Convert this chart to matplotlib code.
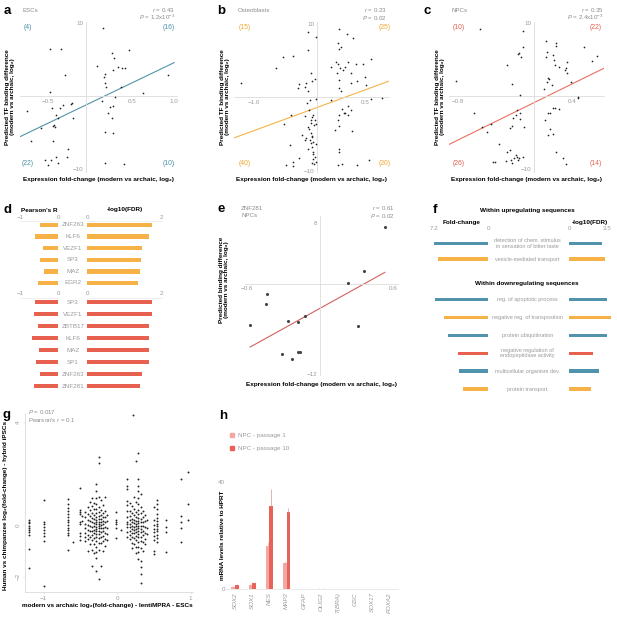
import numpy as np
import matplotlib
matplotlib.use('Agg')
import matplotlib.pyplot as plt
from matplotlib.transforms import blended_transform_factory
from matplotlib.patches import Patch

plt.rcParams['font.family'] = ['Liberation Sans', 'DejaVu Sans']
plt.rcParams['mathtext.fontset'] = 'custom'
plt.rcParams['mathtext.rm'] = 'Liberation Sans'
plt.rcParams['mathtext.it'] = 'Liberation Sans:italic'
plt.rcParams['mathtext.bf'] = 'Liberation Sans:bold'

W, H = 617, 619

BLUE = '#5193ac'
ORANGE = '#f6b247'
RED = '#e8604f'
GREY = '#9a9a9a'
LINE = '#dcdcdc'

# ---- a: ESCs
a_x = [-0.48, -0.35, -0.30, -0.48,
       0.16, 0.47, 0.26, 0.29, 0.08, 0.33, 0.38, 0.42, 0.28, 0.18, 0.17, 0.94, 0.18, 0.19, 0.37, 0.64,
       -0.22, -0.23, -0.32, -0.76, -0.46, -0.36, -0.41, -0.38, -0.21, -0.43, -0.42, -0.44, -0.59, -0.71,
       -0.44, -0.27, -0.28, -0.41, -0.54, -0.47, -0.50, -0.38,
       0.30, 0.14, 0.27, 0.24, 0.21, 0.26, 0.18, 0.28, 0.18, 0.41]
a_y = [6.36, 6.41, 2.86, 0.59,
       9.23, 6.27, 5.82, 5.23, 4.09, 4.00, 3.77, 3.77, 3.55, 3.00, 2.55, 2.82, 1.82, 1.18, 1.27, 0.45,
       -1.00, -1.05, -1.27, -2.00, -1.64, -1.68, -2.59, -3.05, -3.00, -4.00, -4.18, -4.09, -4.41, -6.09,
       -6.14, -7.23, -8.36, -8.27, -8.73, -8.73, -9.41, -9.18,
       -0.09, -0.64, -1.36, -1.45, -2.27, -3.05, -4.95, -5.09, -9.18, -9.27]
a_fit_x = [-0.84, 1.01]
a_fit_y = [-5.55, 4.55]

# ---- b: Osteoblasts
b_x = [-0.28, -0.16, -0.28, -0.61, -0.47, -0.71, -0.23, -0.18, -0.22, -0.30, -0.39, -0.32, -0.41, -0.27, -1.17,
       0.15, 0.25, 0.33, 0.13, 0.17, 0.15, 0.10, 0.26, 0.37, 0.46, 0.58, 0.04, 0.16, 0.20, 0.30, 0.13, 0.11,
       0.49, 0.39, 0.14, 0.14, 0.17, 0.30, 0.51, 0.22,
       -0.50, -0.60, -0.31, -0.22, -0.20, -0.26, -0.29, -0.25, -0.16, -0.27, -0.23, -0.19, -0.17, -0.35,
       -0.23, -0.22, -0.30, -0.26, -0.52, -0.39, -0.57, -0.48, -0.48, -0.22, -0.21, -0.20, -0.18, -0.20,
       -0.17, -0.22, -0.19, -0.23, -0.24, -0.21, -0.28, -0.31, -0.18, -0.23, -0.16, -0.22,
       0.03, 0.18, 0.26, 0.22, 0.31, 0.14, 0.21, 0.13, 0.14, 0.09, 0.32, 0.15, 0.14, 0.13, 0.18, 0.39,
       0.55, 0.58, 0.72, 0.27]
b_y = [8.82, 8.24, 6.43, 5.52, 5.61, 4.03, 3.35, 2.44, 2.26, 1.99, 1.81, 1.36, 1.22, 0.90, 1.90,
       9.32, 8.60, 8.01, 7.33, 6.88, 6.52, 4.84, 4.75, 4.52, 4.52, 5.25, 4.16, 3.94, 3.71, 3.35, 4.48, 3.26,
       2.71, 2.26, 2.35, 1.22, 0.90, 1.99, 1.67, 4.16,
       -2.40, -3.62, -2.53, -2.62, -2.40, -1.72, -0.81, -0.36, -0.27, -3.98, -3.53, -3.76, -3.62, -5.07,
       -4.89, -5.25, -5.48, -4.34, -6.47, -8.24, -9.19, -8.78, -9.32, -6.70, -7.38, -7.74, -8.14, -8.42,
       -8.73, -8.87, -9.05, -6.24, -5.79, -6.02, -7.06, -5.79, -3.08, -3.08, -6.33, -5.34,
       -0.36, -1.58, -1.18, -2.17, -1.72, -2.40, -2.08, -3.08, -3.89, -4.43, -4.57, -7.06, -7.38, -9.23,
       -9.05, -9.14, -8.51, -0.23, -0.05, -2.40]
b_fit_x = [-1.26, 0.82]
b_fit_y = [-5.48, 2.22]

# ---- c: NPCs
c_x = [-0.56, -0.11, -0.11, -0.17, -0.16, -0.14, -0.28, -0.23, -0.82, -0.15,
       0.13, 0.23, 0.23, 0.52, 0.14, 0.20, 0.13, 0.21, 0.22, 0.35, 0.26, 0.66, 0.61, 0.34, 0.32, 0.35,
       0.15, 0.16, 0.14, 0.39, 0.19, 0.11,
       -0.63, -0.54, -0.45, -0.49, -0.18, -0.19, -0.15, -0.22, -0.25, -0.23, -0.10, -0.15, -0.37,
       -0.25, -0.28, -0.43, -0.41, -0.29, -0.24, -0.23, -0.19, -0.18, -0.17, -0.16, -0.21, -0.11,
       0.46, 0.46, 0.20, 0.22, 0.26, 0.17, 0.15, 0.12, 0.17, 0.20, 0.15, 0.23, 0.30, 0.33]
c_y = [9.18, 8.91, 6.73, 5.73, 5.82, 5.36, 4.23, 1.59, 2.00, 0.14,
       7.55, 7.18, 6.86, 6.73, 6.05, 5.59, 5.27, 4.91, 4.23, 4.68, 4.00, 5.45, 4.73, 3.77, 3.55, 3.09,
       2.50, 2.36, 1.91, 1.95, 1.45, 1.00,
       -2.36, -4.18, -3.86, -4.95, -1.91, -2.59, -2.36, -3.05, -4.32, -4.09, -4.18, -3.14, -6.55,
       -7.36, -7.64, -8.95, -9.05, -8.86, -8.73, -9.18, -8.05, -8.27, -8.73, -8.50, -8.45, -8.36,
       -0.09, -0.32, -1.68, -1.68, -1.73, -2.27, -2.36, -3.27, -4.45, -5.18, -5.32, -7.59, -8.41, -9.27]
c_fit_x = [-0.885, 0.73]
c_fit_y = [-6.59, 3.77]

# ---- e: ZNF281 in NPCs
e_x = [0.53, 0.36, 0.23, -0.43, -0.44, -0.57, -0.26, -0.18, -0.12, 0.31, -0.31, -0.23, -0.18, -0.16]
e_y = [7.57, 1.73, 0.13, -1.37, -2.70, -5.53, -4.91, -5.09, -4.25, -5.66, -9.34, -9.96, -9.12, -9.12]
e_fit_x = [-0.57, 0.53]
e_fit_y = [-8.41, 1.50]

# ---- d: TF correlations
d_top_genes = ['ZNF263', 'KLF6', 'VEZF1', 'SP3', 'MAZ', 'EGR2']
d_top_r = [-0.48, -0.61, -0.41, -0.48, -0.37, -0.52]
d_top_fdr = [1.73, 1.67, 1.46, 1.45, 1.43, 1.36]
d_bot_genes = ['SP3', 'VEZF1', 'ZBTB17', 'KLF6', 'MAZ', 'SP1', 'ZNF263', 'ZNF281']
d_bot_r = [-0.61, -0.63, -0.54, -0.69, -0.50, -0.59, -0.48, -0.63]
d_bot_fdr = [1.74, 1.74, 1.67, 1.67, 1.67, 1.67, 1.46, 1.43]

# ---- f: GO terms
f_up_terms = ['detection of chem. stimulus\nin sensation of bitter taste', 'vesicle-mediated transport']
f_up_fc = [7.2, 6.63]
f_up_fdr = [3.04, 3.35]
f_up_colors = [BLUE, ORANGE]
f_down_terms = ['reg. of apoptotic process', 'negative reg. of transposition', 'protein ubiquitination',
                'negative regulation of\nendopeptidase activity', 'multicellular organism dev.',
                'protein transport']
f_down_fc = [7.07, 5.83, 5.39, 4.06, 3.84, 3.31]
f_down_fdr = [3.5, 3.87, 3.5, 2.19, 2.8, 1.98]
f_down_colors = [BLUE, ORANGE, BLUE, RED, BLUE, ORANGE]

# ---- g: lentiMPRA vs hybrid iPSCs (columns of points)
g_col_x = [-1.20, -1.00, -0.67, -0.60, -0.51, -0.47, -0.43, -0.40, -0.37, -0.34, -0.31, -0.28, -0.25,
           -0.22, -0.19, -0.16, -0.13, -0.02, 0.06, 0.13, 0.17, 0.20, 0.22, 0.23, 0.26, 0.29, 0.32,
           0.35, 0.38, 0.41, 0.51, 0.55, 0.67, 0.87, 0.96]
g_col_y = [
    [0.19, 0.13, 0.06, -0.02, -0.10, -0.18, -0.27, -0.37, -0.93, -1.68],
    [0.97, 0.13, 0.04, -0.06, -0.19, -0.32, -0.41, -0.62, -2.36],
    [1.00, 0.80, 0.65, 0.54, 0.44, 0.31, 0.19, 0.10, 0.00, -0.10, -0.21, -0.30, -0.39, -0.98],
    [-0.67],
    [1.45, 0.57, 0.52, 0.41, 0.13, 0.03, -0.32, -0.43, -0.58],
    [0.35, 0.17],
    [0.52, 0.30, 0.05, -0.12, -0.30, -0.45, -0.62],
    [0.70, 0.41, 0.20, 0.00, -0.20, -0.38, -0.55, -1.00],
    [0.90, 0.60, 0.35, 0.15, -0.05, -0.25, -0.48, -0.75],
    [1.05, 0.75, 0.48, 0.28, 0.10, -0.08, -0.22, -0.40, -0.60, -0.95, -1.58],
    [0.85, 0.62, 0.40, 0.22, 0.08, -0.05, -0.18, -0.32, -0.50, -0.72, -1.10],
    [1.58, 1.32, 1.05, 0.82, 0.62, 0.45, 0.32, 0.20, 0.10, 0.02, -0.06, -0.15, -0.25, -0.36, -0.48,
     -0.62, -0.85, -1.05, -1.29, -1.77],
    [2.65, 2.39, 1.10, 0.70, 0.50, 0.35, 0.22, 0.12, 0.04, -0.04, -0.12, -0.22, -0.35, -0.52, -0.70,
     -0.95, -2.09],
    [0.95, 0.60, 0.40, 0.25, 0.12, 0.00, -0.12, -0.28, -0.45, -0.68, -1.59],
    [0.78, 0.48, 0.30, 0.15, 0.02, -0.10, -0.25, -0.42, -0.62, -1.00],
    [1.10, 0.55, 0.30, 0.10, -0.08, -0.30, -0.55, -0.80],
    [0.40, 0.15, -0.10, -0.35, -0.60],
    [0.49, 0.18, 0.10, 0.03, -0.10, -0.49],
    [-0.20],
    [1.78, 1.51, 1.38, 0.93, 0.78, 0.54, 0.32, 0.13, 0.03, -0.06, -0.26, -0.45],
    [0.85, 0.55, 0.35, 0.18, 0.05, -0.08, -0.22, -0.38, -0.55],
    [0.75, 0.45, 0.25, 0.10, -0.02, -0.15, -0.30, -0.48, -0.70, -0.90],
    [4.26],
    [1.10, 0.62, 0.38, 0.20, 0.06, -0.06, -0.18, -0.32, -0.50, -0.75],
    [2.48, 0.90, 0.50, 0.30, 0.15, 0.04, -0.05, -0.15, -0.28, -0.42, -0.60, -0.85, -1.10],
    [2.78, 1.78, 1.51, 1.32, 1.05, 0.80, 0.60, 0.42, 0.28, 0.16, 0.06, -0.03, -0.12, -0.22, -0.34,
     -0.48, -0.65, -0.85, -1.05, -1.30],
    [1.20, 0.70, 0.45, 0.25, 0.10, -0.02, -0.14, -0.28, -0.45, -0.62, -0.90, -1.40, -1.62, -1.89, -2.26],
    [0.55, 0.30, 0.12, -0.05, -0.22, -0.40, -0.65, -1.00],
    [0.40, 0.15, -0.08, -0.30, -0.55, -0.75],
    [0.20, -0.10, -0.35],
    [0.71, 0.19, 0.00, -0.14, -0.27, -0.43, -0.58, -1.00, -1.12],
    [0.97, 0.80, 0.62, 0.42, 0.28, 0.15, 0.05, -0.05, -0.15, -0.25, -0.38, -0.50, -0.65],
    [0.19, -0.09, -0.26, -1.03],
    [1.78, 0.35, 0.13, -0.10, -0.65],
    [2.07, 0.81, 0.19],
]

# ---- h: qPCR
h_genes = ['SOX2', 'SOX1', 'NES', 'MAP2', 'GFAP', 'OLIG2', 'T(BRA)', 'GSC', 'SOX17', 'FOXA2']
h_p1 = [1.0, 1.6, 16.1, 9.9, 0.05, 0.1, 0.03, 0.05, 0.05, 0.03]
h_p1_err = [0.2, 0.3, 1.6, 0.5, 0.0, 0.2, 0.0, 0.0, 0.0, 0.0]
h_p10 = [1.5, 2.4, 31.0, 28.8, 0.05, 0.1, 0.03, 0.05, 0.05, 0.03]
h_p10_err = [0.3, 0.2, 6.2, 1.5, 0.0, 0.3, 0.0, 0.0, 0.0, 0.0]


fig = plt.figure(figsize=(W / 100, H / 100), dpi=100)


def rect(l, t, r, b):
    return [l / W, 1 - b / H, (r - l) / W, (b - t) / H]


def ftext(x, y, s, **kw):
    fig.text(x / W, 1 - y / H, s, **kw)


def cross_panel(box, x, y, fx, fy, xlim, ylim, xc, xt, xtl, yt, ytl, col, size, dotcol):
    ax = fig.add_axes(rect(*box))
    ax.patch.set_alpha(0)
    ax.scatter(x, y, s=size, color=dotcol, linewidths=0, zorder=3)
    ax.plot(fx, fy, color=col, lw=0.8, zorder=2)
    ax.set_xlim(xlim)
    ax.set_ylim(ylim)
    ax.spines['top'].set_visible(False)
    ax.spines['right'].set_visible(False)
    ax.spines['left'].set_position(('data', xc))
    ax.spines['bottom'].set_position(('data', 0))
    for side in ['left', 'bottom']:
        ax.spines[side].set_color(LINE)
        ax.spines[side].set_linewidth(0.6)
    ax.set_xticks(xt, xtl)
    ax.set_yticks(yt, ytl)
    ax.tick_params(length=0, labelsize=4.5, labelcolor=GREY, pad=2)
    return ax


XLAB = 'Expression fold-change (modern vs archaic, log\u2082)'
YLAB = 'Predicted TF binding difference\n(modern vs archaic, log\u2082)'
LAB_KW = dict(fontsize=4.6, fontweight='bold', ha='center', va='center', linespacing=1.1)

# panel a
ax = cross_panel((20, 21.9, 176.7, 171.5), a_x, a_y, a_fit_x, a_fit_y, (-0.84, 1.04), (-10.3, 10.1), -0.05,
                 [-0.5, 0.5, 1.0], ['\u22120.5', '0.5', '1.0'], [-10, 10], ['\u221210', '10'], BLUE, 1.5, '#222222')
ax.set_xlabel(XLAB, **LAB_KW)
ax.xaxis.set_label_coords(0.5, -0.055)
ax.set_ylabel(YLAB, **LAB_KW)
ax.yaxis.set_label_coords(-0.062, 0.5)

# panel b
ax = cross_panel((234.3, 21.7, 389, 171.7), b_x, b_y, b_fit_x, b_fit_y, (-1.265, 0.816), (-10.1, 10.27), -0.15,
                 [-1.0, 0.5], ['\u22121.0', '0.5'], [-10, 10], ['\u221210', '10'], ORANGE, 1.5, '#222222')
ax.set_xlabel(XLAB, **LAB_KW)
ax.xaxis.set_label_coords(0.5, -0.055)
ax.set_ylabel(YLAB, **LAB_KW)
ax.yaxis.set_label_coords(-0.059, 0.5)

# panel c
ax = cross_panel((449.3, 21.9, 604, 171.5), c_x, c_y, c_fit_x, c_fit_y, (-0.885, 0.732), (-10.3, 10.1), 0,
                 [-0.8, 0.4], ['\u22120.8', '0.4'], [-10, 10], ['\u221210', '10'], '#e8705f', 1.5, '#222222')
ax.set_xlabel(XLAB, **LAB_KW)
ax.xaxis.set_label_coords(0.5, -0.055)
ax.set_ylabel(YLAB, **LAB_KW)
ax.yaxis.set_label_coords(-0.059, 0.5)

# panel e
ax = cross_panel((245.3, 215.9, 398.3, 374.8), e_x, e_y, e_fit_x, e_fit_y, (-0.61, 0.64), (-12.1, 9.0), 0,
                 [-0.6, 0.6], ['\u22120.6', '0.6'], [-12, 8], ['\u221212', '8'], '#d2625c', 5, '#444444')
ax.set_xlabel(XLAB, **LAB_KW)
ax.xaxis.set_label_coords(0.5, -0.058)
ax.set_ylabel('Predicted binding difference\n(modern vs archaic, log\u2082)', **LAB_KW)
ax.yaxis.set_label_coords(-0.138, 0.597)

# headers of scatter panels
LET = dict(fontsize=9.5, fontweight='bold', va='baseline')
SUB = dict(fontsize=4.4, color='#8c8c8c', va='baseline')
for lx, sx, rx, letter, name, r, p, qcol, counts, qx in [
        (4, 22.7, 175, 'a', 'ESCs', '0.43', '1.2x10$^{-3}$', '#4a8fa8', ['(4)', '(16)', '(22)', '(10)'], (27.5, 168.3)),
        (217, 237.3, 386.7, 'b', 'Osteoblasts', '0.23', '0.02', '#f0a830', ['(15)', '(25)', '(40)', '(20)'], (245, 385)),
        (423.3, 451.7, 603.3, 'c', 'NPCs', '0.35', '2.4x10$^{-3}$', RED, ['(10)', '(22)', '(26)', '(14)'], (458.3, 595.7))]:
    ftext(lx, 14, letter, **LET)
    ftext(sx, 12.3, name, **SUB)
    ftext(rx, 12.0, '$r$ = ' + r, ha='right', **SUB)
    ftext(rx, 20.0, '$P$ = ' + p, ha='right', **SUB)
    ftext(qx[0], 27.3, counts[0], color=qcol, fontsize=4.9, ha='center', va='center')
    ftext(qx[1], 27.3, counts[1], color=qcol, fontsize=4.9, ha='center', va='center')
    ftext(qx[0], 163.7, counts[2], color=qcol, fontsize=4.9, ha='center', va='center')
    ftext(qx[1], 163.7, counts[3], color=qcol, fontsize=4.9, ha='center', va='center')

ftext(217.7, 212.3, 'e', **LET)
ftext(241, 210.3, 'ZNF281', **SUB)
ftext(241, 217.3, 'NPCs', **SUB)
ftext(394.3, 210.3, '$r$ = 0.61', ha='right', **SUB)
ftext(394.3, 217.6, '$P$ = 0.02', ha='right', **SUB)

# panel d
ftext(3, 213.3, 'd', **LET)
ftext(21, 211.5, "Pearson's R", fontsize=4.6, fontweight='bold', va='baseline')
ftext(124.5, 211.5, '-log10(FDR)', fontsize=4.6, fontweight='bold', ha='center', va='baseline')


def tf_group(top, bottom, lim, genes, rvals, fdrvals, color, barh_):
    rows = np.arange(len(genes))
    for (l, r, xl, vals, ticks, tl) in [(20, 58.3, (-1, 0), rvals, [-1, 0], ['\u22121', '0']),
                                         (87.3, 161.7, (0, 2), fdrvals, [0, 2], ['0', '2'])]:
        ax = fig.add_axes(rect(l, top, r, bottom))
        ax.barh(rows, vals, height=barh_, color=color)
        ax.set_xlim(xl)
        ax.set_ylim(lim)
        for side in ['left', 'right', 'bottom']:
            ax.spines[side].set_visible(False)
        ax.spines['top'].set_color('#eeeeee')
        ax.spines['top'].set_linewidth(0.6)
        ax.xaxis.tick_top()
        ax.set_xticks(ticks, tl)
        ax.set_yticks([])
        ax.tick_params(length=0, labelsize=4.5, labelcolor=GREY, pad=1)
    tr = blended_transform_factory(fig.transFigure, ax.transData)
    for i, g in enumerate(genes):
        ax.text(72.8 / W, i, g, transform=tr, ha='center', va='center', fontsize=4.5, color=GREY)


tf_group(220.9, 288.8, (5.5, -0.35), d_top_genes, d_top_r, d_top_fdr, ORANGE, 0.37)
tf_group(297.8, 392, (7.5, -0.35), d_bot_genes, d_bot_r, d_bot_fdr, RED, 0.36)

# panel f
ftext(432.3, 213.3, 'f', **LET)
ftext(527.3, 211, 'Within upregulating sequences', fontsize=4.6, fontweight='bold', ha='center', va='center')
ftext(461.7, 222.7, 'Fold-change', fontsize=4.6, fontweight='bold', ha='center', va='center')
ftext(590, 222.7, '-log10(FDR)', fontsize=4.6, fontweight='bold', ha='center', va='center')
ftext(527.3, 283, 'Within downregulating sequences', fontsize=4.6, fontweight='bold', ha='center', va='center')


def go_group(top, bottom, lim, terms, fc, fdr, colors, bh, ticks):
    rows = np.arange(len(terms))
    for (l, r, xl, vals, tk, tl) in [(434, 488.3, (7.2, 0), fc, [7.2, 0], ['7.2', '0']),
                                      (569.3, 607, (0, 3.5), fdr, [0, 3.5], ['0', '3.5'])]:
        ax = fig.add_axes(rect(l, top, r, bottom))
        ax.patch.set_alpha(0)
        ax.barh(rows, vals, height=bh, color=colors, clip_on=False)
        ax.set_xlim(xl)
        ax.set_ylim(lim)
        for side in ['left', 'right', 'bottom', 'top']:
            ax.spines[side].set_visible(False)
        ax.set_yticks([])
        if ticks:
            ax.xaxis.tick_top()
            ax.set_xticks(tk, tl)
            ax.tick_params(length=0, labelsize=4.5, labelcolor=GREY, pad=1)
        else:
            ax.set_xticks([])
    tr = blended_transform_factory(fig.transFigure, ax.transData)
    for i, t in enumerate(terms):
        ax.text(527.3 / W, i, t, transform=tr, ha='center', va='center', fontsize=4.0, color=GREY,
                linespacing=1.15)


go_group(232, 266.9, (1.5, -0.72), f_up_terms, f_up_fc, f_up_fdr, f_up_colors, 0.2, True)
go_group(290.3, 398, (5.5, -0.5), f_down_terms, f_down_fc, f_down_fdr, f_down_colors, 0.18, False)

# panel g
gx = np.repeat(g_col_x, [len(c) for c in g_col_y])
gy = np.concatenate(g_col_y)
ax = fig.add_axes(rect(25, 413.3, 193.3, 592))
ax.patch.set_alpha(0)
ax.scatter(gx, gy, s=1.9, color='#222222', linewidths=0)
ax.set_xlim(-1.252, 1.038)
ax.set_ylim(-2.597, 4.33)
ax.spines['top'].set_visible(False)
ax.spines['right'].set_visible(False)
for side in ['left', 'bottom']:
    ax.spines[side].set_color(LINE)
    ax.spines[side].set_linewidth(0.6)
ax.set_xticks([-1, 0, 1], ['\u22121', '0', '1'])
ax.set_yticks([-2, 0, 4], ['\u22122', '0', '4'])
plt.setp(ax.get_yticklabels(), rotation=90, va='center')
ax.tick_params(length=1.5, width=0.5, color=LINE, labelsize=4.5, labelcolor=GREY, pad=1.5)
ax.set_xlabel('modern vs archaic log\u2082(fold-change) - lentiMPRA - ESCs', **LAB_KW)
ax.xaxis.set_label_coords(0.487, -0.078)
ax.set_ylabel('Human vs chimpanzee log\u2082(fold-change) - hybrid iPSCs', **LAB_KW)
ax.yaxis.set_label_coords(-0.113, 0.487)
ftext(2.7, 417.7, 'g', **LET)
ftext(28.3, 414, '$P$ = 0.017', **SUB)
ftext(28.3, 421.5, "Pearson's $r$ = 0.1", **SUB)

# panel h
ax = fig.add_axes(rect(226.4, 481.7, 398.4, 589.3))
ax.patch.set_alpha(0)
pos = np.arange(len(h_genes))
bw = 0.21
ax.bar(pos - bw / 2, h_p1, width=bw, color='#f4a6a0',
       yerr=[np.zeros(len(h_p1)), h_p1_err], error_kw=dict(ecolor='#e9b9b5', elinewidth=0.6, capsize=0))
ax.bar(pos + bw / 2, h_p10, width=bw, color='#e8625a',
       yerr=[np.zeros(len(h_p10)), h_p10_err], error_kw=dict(ecolor='#d7aaa6', elinewidth=0.6, capsize=0))
ax.set_xlim(-0.5, 9.5)
ax.set_ylim(0, 40)
for side in ['left', 'right', 'top']:
    ax.spines[side].set_visible(False)
ax.spines['bottom'].set_color('#e6e6e6')
ax.spines['bottom'].set_linewidth(0.6)
ax.set_yticks([0, 40], ['0', '40'])
ax.set_xticks(pos, h_genes, rotation=90, fontstyle='italic')
ax.tick_params(length=0, labelsize=4.5, labelcolor=GREY, pad=2)
ax.tick_params(axis='y', pad=1)
ax.set_ylabel('mRNA levels relative to HPRT', **LAB_KW)
ax.yaxis.set_label_coords(-0.024, 0.5)
ftext(219, 419, 'h', **LET)
fig.legend(handles=[Patch(color='#f4a6a0'), Patch(color='#e8625a')],
           labels=['NPC - passage 1', 'NPC - passage 10'],
           loc='upper left', bbox_to_anchor=(230 / W, 1 - 433 / H), frameon=False, fontsize=4.5,
           labelcolor=GREY, handlelength=0.7, handleheight=0.7, handletextpad=0.5,
           labelspacing=1.2, borderpad=0, borderaxespad=0)

fig.savefig('out.png', dpi=100)
